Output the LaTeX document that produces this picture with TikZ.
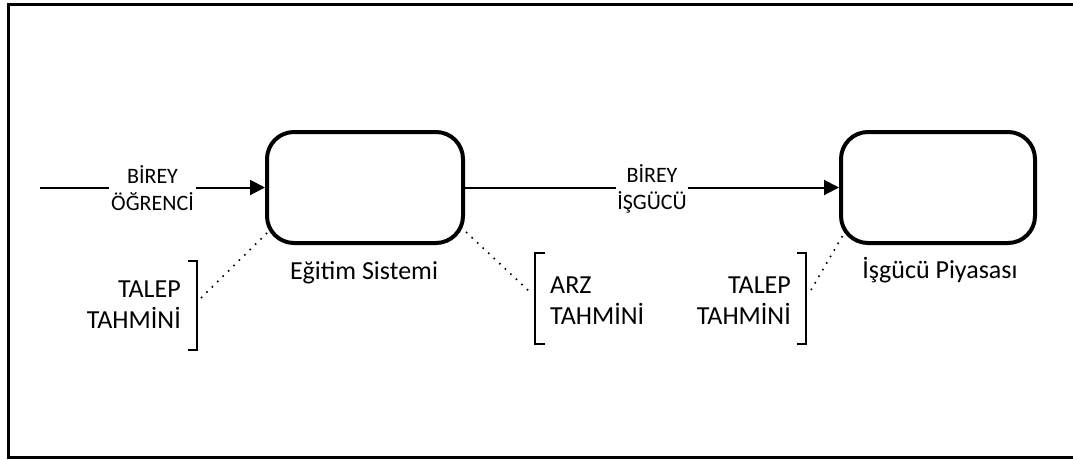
\documentclass[tikz,border=0pt]{standalone}
\usepackage{fontspec}
\setmainfont{Carlito}
\usetikzlibrary{arrows.meta}
\begin{document}
\begin{tikzpicture}[x=1pt,y=-1pt,
  stage/.style={draw, line width=4pt, rounded corners=27pt,
    minimum width=196pt, minimum height=111pt, inner sep=0pt},
  flow/.style={line width=2pt, -{Triangle[length=15pt,width=15pt]}},
  flowlbl/.style={fill=white, inner sep=2pt, align=center,
    font=\fontsize{22}{27}\selectfont},
  caption/.style={inner sep=0pt, font=\fontsize{26}{30}\selectfont},
  est/.style={inner sep=0pt, font=\fontsize{26}{31}\selectfont},
  bracket/.style={line width=2pt},
  link/.style={line width=1.6pt, dash pattern=on 1.6pt off 6pt},
  frame/.style={line width=3pt}]
\useasboundingbox (0,0) rectangle (1073,459);
% outer frame (right side runs past the page edge)
\draw[frame] (8.5,4) rectangle (1085,457);

% the two stages
\node[stage] (box1) at (365,187.5) {};
\node[stage, minimum width=194pt] (box2) at (938,187.5) {};
\node[caption, anchor=base] (c1) at (364,279) {Eğitim Sistemi};
\node[caption, anchor=base] (c2) at (940,278) {İşgücü Piyasası};

% flows between stages
\coordinate (src) at (40,187.5);
\draw[flow] (src) -- (box1.west)
  node[midway, flowlbl, yshift=-1pt] (f1) {BİREY\\ÖĞRENCİ};
\draw[flow] (box1.east) -- (box2.west)
  node[midway, flowlbl, inner sep=1pt, yshift=-1pt] (f2) {BİREY\\İŞGÜCÜ};

% forecasts with brackets
\node[est, anchor=east, align=right] (d1) at (181,305) {TALEP\\TAHMİNİ};
\node[est, anchor=west, align=left] (s1) at (550,301) {ARZ\\TAHMİNİ};
\node[est, anchor=east, align=right] (d2) at (791,301) {TALEP\\TAHMİNİ};

\draw[bracket] (188,261) -- (197,261) -- (197,350) -- (188,350);
\draw[bracket] (545,253) -- (535,253) -- (535,344) -- (545,344);
\draw[bracket] (797,253) -- (806,253) -- (806,344) -- (797,344);

% dotted links from brackets to stages
\coordinate (lb) at (201,298);
\coordinate (mb) at (530,292);
\coordinate (rb) at (811,290);
\coordinate (e1) at (268,232);
\coordinate (e2) at (466,232);
\coordinate (e3) at (843,235);
\draw[link] (lb) -- (e1);
\draw[link] (e2) -- (mb);
\draw[link] (rb) -- (e3);
\end{tikzpicture}
\end{document}
